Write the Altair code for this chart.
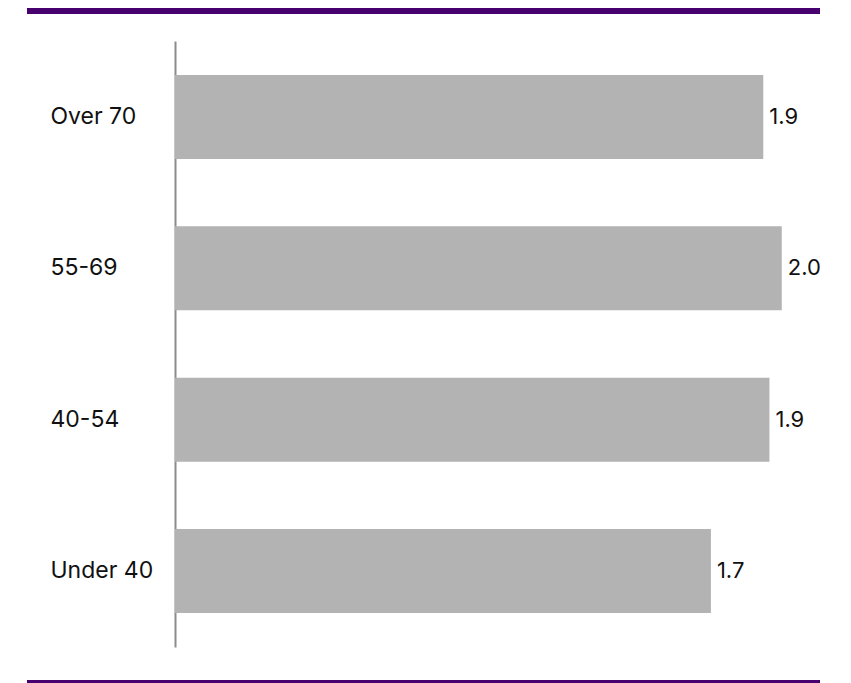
import altair as alt
import pandas as pd

categories = ["Over 70", "55-69", "40-54", "Under 40"]
values = [1.91, 1.97, 1.93, 1.74]

df = pd.DataFrame({"group": categories, "value": values})

FONT = "Inter"
PURPLE = "#48006F"

base = alt.Chart(df)

y_enc = alt.Y(
    "group:N",
    sort=categories,
    scale=alt.Scale(paddingInner=0.445, paddingOuter=0.225),
    axis=alt.Axis(
        title=None,
        ticks=False,
        tickSize=0,
        grid=False,
        domainColor="#8c8c8c",
        domainWidth=2,
        labelAlign="left",
        labelPadding=125,
        labelFont=FONT,
        labelFontSize=23,
        labelColor="#111111",
    ),
)

x_enc = alt.X("value:Q", scale=alt.Scale(domain=[0, 2.0], nice=False, zero=True), axis=None)

bars = base.mark_bar(color="#b3b3b3").encode(x=x_enc, y=y_enc)

labels = base.mark_text(
    align="left", baseline="middle", dx=6, font=FONT, fontSize=22, color="#111111"
).encode(x=x_enc, y=alt.Y("group:N", sort=categories), text=alt.Text("value:Q", format=".1f"))

one = alt.Chart(alt.Data(values=[{"k": 1}]))
top_line = one.mark_rule(color=PURPLE, strokeWidth=8, strokeCap="butt").encode(
    x=alt.value(-148), x2=alt.value(645), y=alt.value(-31)
)
bottom_line = one.mark_rule(color=PURPLE, strokeWidth=4, strokeCap="butt").encode(
    x=alt.value(-148), x2=alt.value(645), y=alt.value(641)
)

chart = (
    alt.layer(bars, labels, top_line, bottom_line)
    .properties(
        width=616,
        height=606,
        padding={"left": 167, "top": 33, "right": 40, "bottom": 40},
        autosize=alt.AutoSizeParams(type="none"),
    )
    .configure(background="white", view=alt.ViewConfig(stroke=None, strokeWidth=0))
)

chart.save("out.html", embed_options={"renderer": "svg", "actions": False})
